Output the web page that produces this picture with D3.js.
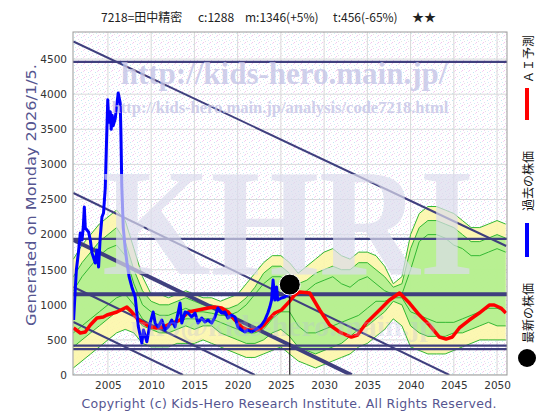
<!DOCTYPE html>
<html><head><meta charset="utf-8">
<script src="https://cdn.jsdelivr.net/npm/d3@7/dist/d3.min.js"></script>
<style>body{margin:0;background:#fff}svg{display:block}</style>
</head><body>
<svg id="c" width="560" height="420"></svg>
<script>
// ---------- data ----------
const titleParts = ["7218=田中精密", "c:1288", "m:1346(+5%)", "t:456(-65%)", "★★"];
const yTicks = [0,500,1000,1500,2000,2500,3000,3500,4000,4500];
const xTicks = [2005,2010,2015,2020,2025,2030,2035,2040,2045,2050];

const blueYears = [2001.03,2001.23,2001.35,2001.58,2001.81,2002.00,2002.15,2002.27,2002.38,2002.76,2002.96,2003.16,2003.54,2003.73,2003.92,2004.11,2004.31,2004.49,2004.69,2004.85,2004.98,2005.10,2005.27,2005.38,2005.50,2005.60,2005.84,2006.19,2006.42,2006.50,2006.60,2006.77,2007.00,2007.20,2007.45,2007.76,2008.15,2008.50,2008.92,2009.11,2009.50,2009.88,2010.23,2010.46,2010.80,2011.23,2011.60,2011.96,2012.38,2012.76,2013.11,2013.34,2013.54,2013.92,2014.26,2014.69,2015.07,2015.42,2015.84,2016.22,2016.57,2017.00,2017.38,2017.72,2018.15,2018.53,2018.88,2019.30,2019.69,2020.03,2020.46,2020.84,2021.18,2021.61,2021.99,2022.34,2022.76,2023.15,2023.49,2023.72,2023.92,2024.10,2024.30,2024.50,2024.64,2025.07,2025.45,2025.80,2026.03];
const blueValues = [783,1240,1496,1738,2023,1923,2108,2393,2094,2037,1923,1738,1595,1780,1538,1966,2251,2308,2664,3380,3920,3600,3750,3500,3700,3550,3650,4017,3875,3462,2700,2100,1800,1600,1400,1254,1111,700,456,641,474,740,897,740,684,783,641,684,783,684,883,1025,740,897,883,826,883,740,812,755,783,740,826,954,883,897,812,854,826,684,641,612,641,612,641,670,712,783,883,968,1068,1353,1068,1254,1068,1097,1111,1140,1288];

const redYears = [2001.03,2001.81,2002.38,2002.96,2003.73,2004.46,2004.89,2006.04,2007.19,2007.77,2008.53,2009.11,2009.88,2010.65,2011.42,2012.38,2013.34,2014.30,2015.45,2016.60,2017.38,2018.15,2018.91,2019.69,2020.46,2021.22,2021.99,2022.76,2023.53,2024.30,2025.07,2025.83,2026.60,2027.18,2028.33,2029.49,2030.64,2031.80,2033.15,2033.87,2034.88,2036.41,2037.56,2038.72,2039.87,2041.02,2042.18,2043.33,2044.10,2044.83,2045.64,2046.79,2047.94,2049.10,2049.67,2050.45,2051.02];
const redValues = [670,598,612,712,812,826,854,897,968,897,783,740,684,670,684,740,783,897,926,954,968,954,897,783,684,641,641,670,783,883,926,1025,1140,1182,1168,926,712,612,541,570,740,926,1068,1168,1025,854,712,541,512,541,670,783,883,997,997,954,883];

const fanYears = [2001,2002,2003,2004,2005,2006,2007,2008,2009,2010,2011,2012,2013,2014,2015,2016,2017,2018,2019,2020,2021,2022,2023,2024,2025,2026,2027,2028,2029,2030,2031,2032,2033,2034,2035,2036,2037,2038,2039,2040,2041,2042,2043,2044,2045,2046,2047,2048,2049,2050,2051];
const fanOuterHigh = [1650,1850,2000,2150,2250,2350,2200,1800,1400,1150,1150,1100,1150,1200,1150,1100,1100,1050,1100,1150,1300,1450,1600,1700,1700,1600,1450,1550,1650,1750,1800,1700,1650,1750,1750,1700,1550,1300,1400,2000,2300,2400,2400,2350,2300,2200,2100,2100,2150,2200,2150];
const fanInnerHigh = [1400,1600,1750,1900,2000,2100,1900,1500,1200,1050,1000,1000,1050,1100,1050,1000,1000,950,950,1000,1100,1250,1450,1550,1550,1450,1300,1350,1450,1500,1550,1500,1500,1600,1600,1500,1400,1250,1300,1800,2100,2200,2200,2150,2100,2000,1900,1900,1950,2000,1950];
const fanInnerLow = [400,500,600,700,800,900,950,850,700,650,600,600,650,700,650,700,700,600,550,500,450,450,500,600,650,550,400,350,300,350,400,450,550,650,700,800,900,1050,1000,700,600,550,550,550,600,600,650,700,750,700,700];
const fanOuterLow = [100,200,300,400,500,600,650,600,450,400,400,400,450,450,450,500,450,400,350,300,250,250,300,350,400,300,200,150,100,150,200,250,300,400,450,550,650,800,700,400,350,300,300,300,350,400,450,500,500,500,500];
const fanMidA = [1200,1400,1550,1700,1800,1850,1700,1300,1000,900,850,850,900,950,900,900,880,850,850,900,1000,1150,1300,1400,1400,1300,1150,1200,1300,1350,1400,1300,1250,1350,1400,1300,1200,1150,1150,1500,1900,2000,2000,1950,1850,1800,1700,1700,1750,1800,1750];
const fanMidB = [600,700,800,900,1000,1100,1150,1000,800,700,700,700,750,800,800,800,800,750,700,650,600,600,650,800,900,900,700,600,600,650,700,750,800,850,950,1050,1050,1100,1100,900,850,800,750,750,750,800,850,900,950,950,900];

const supportLevels = [4460, 1940, 1150, 418, 370];
const trendStarts = [[2001,4751],[2001,2593],[2001,1923],[2001,1254],[2001,755]];
const trendEnds = [[2051.06,1838],[2044.48,0],[2033.18,0],[2021.99,0],[2013.69,0]];

const latest = {year: 2026.03, value: 1288};
const watermarks = ["http://kids-hero.main.jp/", "http://kids-hero.main.jp/analysis/code7218.html", "KHRI", "info@kids-hero.main.jp"];
const legendLabels = ["最新の株価", "過去の株価", "ＡＩ予測"];
const yLabel = "Generated on Monday 2026/1/5.";
const copyright = "Copyright (c) Kids-Hero Research Institute. All Rights Reserved.";

// ---------- chart ----------
const svg = d3.select("#c");
const L = 73, R = 507, T = 32, B = 375;
const x = d3.scaleLinear().domain([2000.96, 2051.15]).range([L, R]);
const y = d3.scaleLinear().domain([0, 4886]).range([B, T]);
const navy = "#3f3f7e";

const defs = svg.append("defs");
const pat = defs.append("pattern").attr("id","bg").attr("width",7).attr("height",7).attr("patternUnits","userSpaceOnUse");
pat.append("rect").attr("width",7).attr("height",7).attr("fill","#ffffff");
[[0,0,"#f4c4f2"],[4,2,"#c4e8f4"],[1,4,"#ecd4f2"],[5,5,"#d0eef6"],[2,6,"#e4e4e4"],[6,1,"#f2dcf2"]].forEach(d=>{
  pat.append("rect").attr("x",d[0]).attr("y",d[1]).attr("width",1).attr("height",1).attr("fill",d[2]);
});
defs.append("clipPath").attr("id","clip").append("rect").attr("x",L).attr("y",T).attr("width",R-L).attr("height",B-T);

svg.append("rect").attr("x",L).attr("y",T).attr("width",R-L).attr("height",B-T).attr("fill","url(#bg)");

// grid
const g = svg.append("g").attr("clip-path","url(#clip)");
g.selectAll(".gx").data(xTicks).join("line").attr("x1",d=>x(d)).attr("x2",d=>x(d)).attr("y1",T).attr("y2",B).attr("stroke","#dadada");
g.selectAll(".gy").data(yTicks).join("line").attr("x1",L).attr("x2",R).attr("y1",d=>y(d)).attr("y2",d=>y(d)).attr("stroke","#dadada");

// watermarks behind
svg.append("text").attr("x",284).attr("y",84).attr("text-anchor","middle").attr("font-family","Liberation Serif").attr("font-weight","bold").attr("font-size",31).attr("fill","#c4c4e6").attr("fill-opacity",0.8).text(watermarks[0]);
svg.append("text").attr("x",280).attr("y",113).attr("text-anchor","middle").attr("font-family","Liberation Serif").attr("font-weight","bold").attr("font-size",16.5).attr("fill","#c4c4e6").attr("fill-opacity",0.8).text(watermarks[1]);
svg.append("text").attr("x",288).attr("y",274).attr("text-anchor","middle").attr("font-family","Liberation Serif").attr("font-weight","bold").attr("font-size",152).attr("fill","#dcdcec").attr("fill-opacity",0.7).attr("textLength",372).attr("lengthAdjust","spacingAndGlyphs").text(watermarks[2]);

// fan
const fan = fanYears.map((yr,i)=>({yr, oh:fanOuterHigh[i], ih:fanInnerHigh[i], il:fanInnerLow[i], ol:fanOuterLow[i], a:fanMidA[i], b:fanMidB[i]}));
g.append("path").datum(fan).attr("d", d3.area().x(d=>x(d.yr)).y0(d=>y(d.ol)).y1(d=>y(d.oh))).attr("fill","#fcf6aa").attr("fill-opacity",0.9);
g.append("path").datum(fan).attr("d", d3.area().x(d=>x(d.yr)).y0(d=>y(d.il)).y1(d=>y(d.ih))).attr("fill","#abef8c").attr("fill-opacity",0.85);
["oh","ih","a","b","il","ol"].forEach(k=>{
  g.append("path").datum(fan).attr("d", d3.line().x(d=>x(d.yr)).y(d=>y(d[k]))).attr("fill","none").attr("stroke","#33b833").attr("stroke-width",1);
});

svg.append("text").attr("x",283).attr("y",336).attr("text-anchor","middle").attr("font-family","Liberation Serif").attr("font-weight","bold").attr("font-size",30).attr("fill","#b8b8de").attr("fill-opacity",0.3).text(watermarks[3]);

// support lines
g.selectAll(".hl").data(supportLevels).join("line").attr("x1",L).attr("x2",R).attr("y1",d=>y(d)).attr("y2",d=>y(d)).attr("stroke",navy).attr("stroke-width",d=>d===1150?4:2.2);
// trend lines
g.selectAll(".tl").data(trendStarts).join("line")
  .attr("x1",d=>x(d[0])).attr("y1",d=>y(d[1]))
  .attr("x2",(d,i)=>x(trendEnds[i][0])).attr("y2",(d,i)=>y(trendEnds[i][1]))
  .attr("stroke",navy).attr("stroke-width",(d,i)=>i===2?4:2);

// red prediction
g.append("path").datum(redYears.map((d,i)=>[d,redValues[i]])).attr("d", d3.line().x(d=>x(d[0])).y(d=>y(d[1]))).attr("fill","none").attr("stroke","#ff0000").attr("stroke-width",3.5).attr("stroke-linejoin","round");
// blue past
g.append("path").datum(blueYears.map((d,i)=>[d,blueValues[i]])).attr("d", d3.line().x(d=>x(d[0])).y(d=>y(d[1]))).attr("fill","none").attr("stroke","#0000ff").attr("stroke-width",3).attr("stroke-linejoin","round");

// latest marker
svg.append("line").attr("x1",x(latest.year)).attr("x2",x(latest.year)).attr("y1",y(latest.value)).attr("y2",B).attr("stroke","#000").attr("stroke-width",1);
svg.append("circle").attr("cx",x(latest.year)).attr("cy",y(latest.value)).attr("r",10.5).attr("fill","#000").attr("stroke","#fff").attr("stroke-width",1);

// frame
svg.append("rect").attr("x",L).attr("y",T).attr("width",R-L).attr("height",B-T).attr("fill","none").attr("stroke","#999").attr("stroke-width",1);

// axes
const xa = svg.append("g").attr("transform",`translate(0,${B})`).call(d3.axisBottom(x).tickValues(xTicks).tickFormat(d3.format("d")).tickSize(0).tickPadding(7));
const ya = svg.append("g").attr("transform",`translate(${L},0)`).call(d3.axisLeft(y).tickValues(yTicks).tickFormat(d3.format("d")).tickSize(0).tickPadding(6));
[xa,ya].forEach(a=>{a.select(".domain").remove(); a.selectAll("text").attr("font-family","DejaVu Sans").attr("font-size",10.5).attr("fill","#333");});

// title
const tx = [101, 198, 245, 333, 412];
svg.selectAll(".tt").data(titleParts).join("text").attr("x",(d,i)=>tx[i]).attr("y",22).attr("font-family","Noto Sans CJK JP").attr("font-size",12).attr("fill","#222").text(d=>d);

// y label
svg.append("text").attr("transform","translate(36,195) rotate(-90)").attr("text-anchor","middle").attr("font-family","DejaVu Sans").attr("font-size",14).attr("fill","#555590").attr("textLength",262).attr("lengthAdjust","spacingAndGlyphs").text(yLabel);

// copyright
svg.append("text").attr("x",289).attr("y",408).attr("text-anchor","middle").attr("font-family","DejaVu Sans").attr("font-size",12.5).attr("fill","#555590").attr("textLength",415).text(copyright);

// legend
const lgX = 527;
svg.append("circle").attr("cx",lgX).attr("cy",358).attr("r",9).attr("fill","#000");
svg.append("rect").attr("x",lgX-2).attr("y",223).attr("width",4).attr("height",34).attr("fill","#0000ff");
svg.append("rect").attr("x",lgX-2).attr("y",88).attr("width",4).attr("height",32).attr("fill","#ff0000");
const legBottoms = [343, 211, 83];
svg.selectAll(".lg").data(legendLabels).join("text")
  .attr("transform",(d,i)=>`translate(${lgX+6},${legBottoms[i]}) rotate(-90)`)
  .attr("font-family","Noto Sans CJK JP").attr("font-size",12).attr("fill","#111").text(d=>d);
</script>
</body></html>
